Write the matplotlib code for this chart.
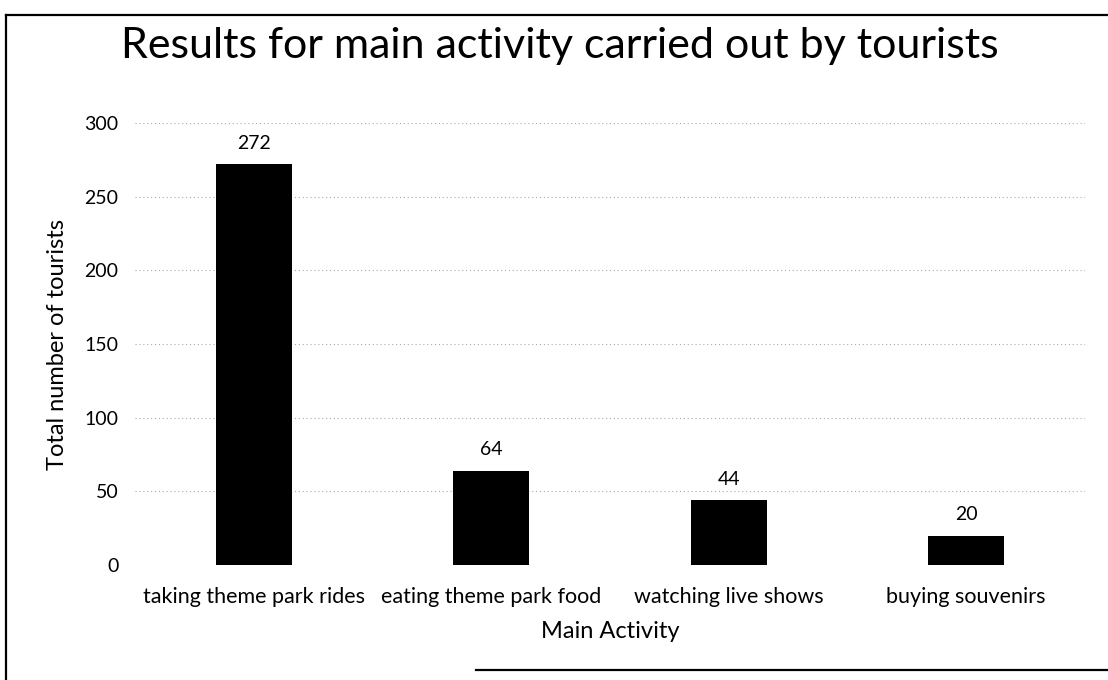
import matplotlib
matplotlib.use("Agg")
import matplotlib.pyplot as plt
from matplotlib.lines import Line2D

categories = ["taking theme park rides", "eating theme park food",
              "watching live shows", "buying souvenirs"]
values = [272, 64, 44, 20]
yticks = [0, 50, 100, 150, 200, 250, 300]

plt.rcParams['font.family'] = ['Lato', 'DejaVu Sans']

fig = plt.figure(figsize=(11.08, 6.8), dpi=100)
ax = fig.add_axes([0.122, 0.169, 0.857, 0.650])

x = list(range(len(categories)))
bars = ax.bar(x, values, width=0.32, color='black', zorder=3)
for xi, v in zip(x, values):
    ax.annotate(str(v), (xi, v), xytext=(0, 9), textcoords='offset points',
                ha='center', va='bottom', fontsize=14, color='black')

ax.set_xlim(-0.5, len(categories) - 0.5)
ax.set_ylim(0, 300)
ax.set_yticks(yticks)
ax.set_xticks(x)
ax.set_xticklabels(categories, fontsize=15.5)
ax.tick_params(axis='y', labelsize=14, length=0, pad=12)
ax.tick_params(axis='x', length=0, pad=16)
ax.grid(axis='y', color='#aaaaaa', linestyle=(0, (1, 2.5)), linewidth=0.8, zorder=0)
for s in ax.spines.values():
    s.set_visible(False)

ax.set_ylabel("Total number of tourists", fontsize=17, labelpad=12)
ax.set_xlabel("Main Activity", fontsize=17, labelpad=10)

fig.text(0.505, 0.932, "Results for main activity carried out by tourists",
         ha='center', va='center', fontsize=31)

# scanned frame
fig.add_artist(Line2D([0.005, 1.0], [0.978, 0.978], color='black', lw=1.6,
                      transform=fig.transFigure))
fig.add_artist(Line2D([0.005, 0.005], [0.0, 0.978], color='black', lw=1.6,
                      transform=fig.transFigure))
fig.add_artist(Line2D([0.43, 1.0], [0.015, 0.015], color='black', lw=1.6,
                      transform=fig.transFigure))

fig.savefig("out.png", dpi=100, facecolor='white')
